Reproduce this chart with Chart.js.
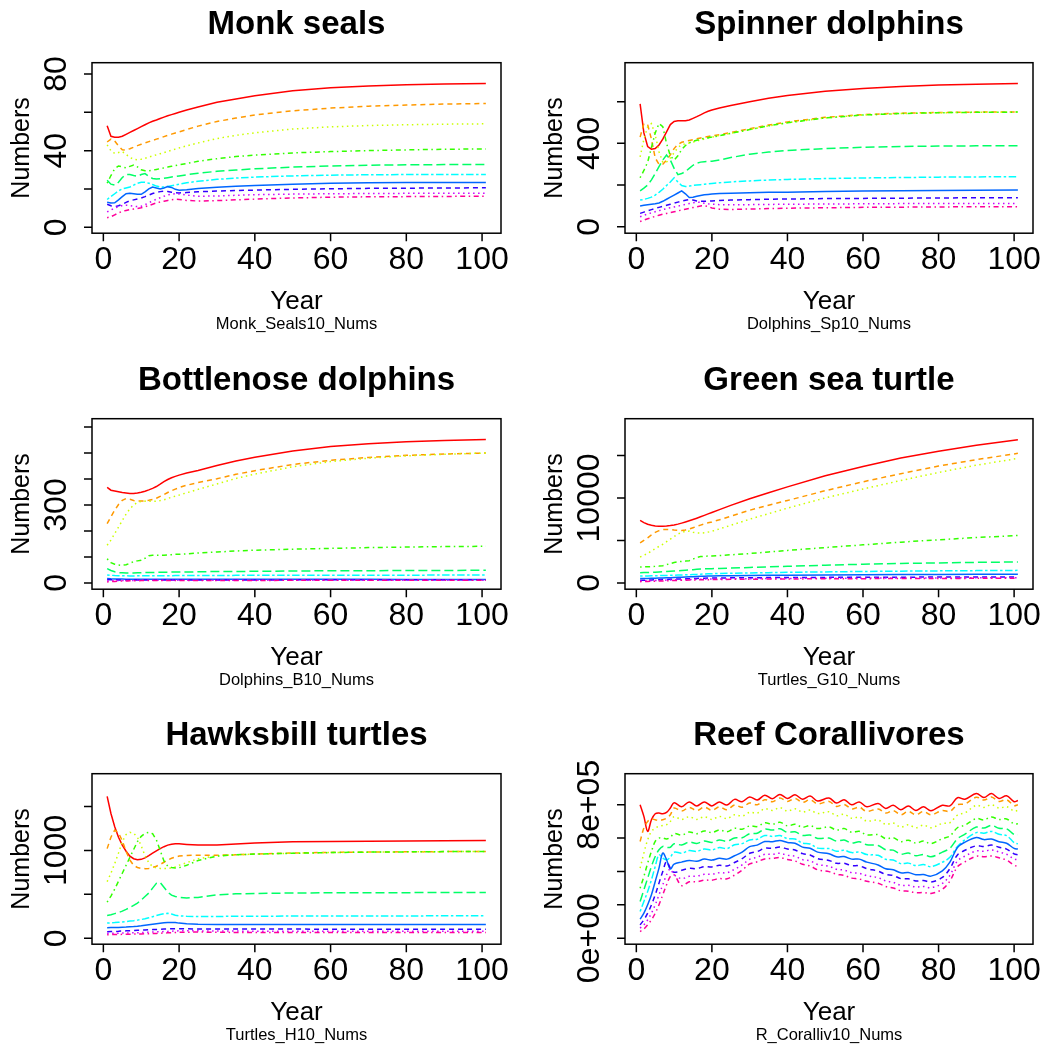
<!DOCTYPE html>
<html>
<head>
<meta charset="utf-8">
<title>Population numbers by age class</title>
<script src="https://cdn.jsdelivr.net/npm/chart.js@4.4.0/dist/chart.umd.min.js"></script>
<style>
  html, body { margin: 0; padding: 0; background: #fff; }
  body { width: 1046px; height: 1047px; overflow: hidden; position: relative; }
  canvas { position: absolute; }
</style>
</head>
<body>
<script>
// yearly projection, 10 age classes per species (rainbow order, R matplot style)
const years = [1,2,3,4,5,6,7,8,9,10,11,12,13,14,15,16,17,18,19,20,22,25,30,35,40,50,60,70,80,90,101];
const reefYears = [1,2,3,4,5,6,7,8,9,10,12,14,16,18,20,22,24,26,28,30,32,34,36,38,40,42,44,46,48,
  51,53,55,57,59,61,64,66,68,70,72,74,76,78,81,83,85,87,90,92,94,96,98,100,101];
const xTicks = [0, 20, 40, 60, 80, 100];

const classColors = ['#FF0000','#FF9900','#CCFF00','#33FF00','#00FF66','#00FFFF','#0066FF','#3300FF','#CC00FF','#FF0099'];
// lty 1..6: solid, dashed, dotted, dotdash, longdash, twodash
const ltyDash = [[], [5,4], [1.5,3.5], [1.5,3.5,5,3.5], [9,4], [2.5,2.5,7.5,2.5]];

const monkSeals = [
  [53,47.5,47,47,47.5,48.5,49.5,50.5,51.5,52.5,53.5,54.5,55.3,56,56.8,57.5,58.2,58.8,59.4,60,61.2,62.8,65.2,67,68.6,71.2,72.8,73.7,74.4,74.8,75.1],
  [44.5,46,45,42.5,40.5,40.3,41,41.8,42.6,43.3,44,44.7,45.3,46,46.6,47.3,48,48.6,49.2,49.8,51,52.8,55.2,57,58.6,60.8,62.2,63.2,63.8,64.3,64.6],
  [43,40,38.5,39,39.5,38,36.5,35.5,35.2,35.5,36,36.6,37.2,37.8,38.4,39,39.6,40.2,40.8,41.4,42.5,44,46.3,48,49.3,51.3,52.4,53.1,53.5,53.8,54],
  [23,27,30.5,32,31.5,31,31.8,32.5,31.5,30,29.5,29.5,29.8,30.2,30.6,31,31.4,31.8,32.2,32.6,33.3,34.4,35.8,36.9,37.7,38.8,39.5,40,40.4,40.7,40.9],
  [24.5,22.5,22,23.5,26,27.5,27.5,27,26.6,27.5,28,26.5,25.5,25.2,25.3,25.6,25.9,26.2,26.5,26.8,27.4,28.2,29.2,29.9,30.5,31.4,32,32.4,32.6,32.7,32.8],
  [14.5,16,17.5,19,20,20.5,21,22,23,23.5,23.5,23,22.3,21.5,21,21,21.3,21.7,22,22.5,23.2,24,25,25.7,26.2,26.8,27.2,27.4,27.5,27.6,27.6],
  [13,12.7,12.8,14.3,16,17.5,17.8,17.5,17.2,17.2,18.5,20,21,20.5,20,20.5,21.2,20.8,19.8,19.3,19.6,20.2,20.9,21.4,21.8,22.5,23,23.2,23.3,23.4,23.4],
  [12,11.2,10.8,11.2,12,13,13.8,14.3,14.8,15.3,16,16.8,17.6,18.2,18.6,18.9,18.7,18.3,18,17.9,18.1,18.5,18.9,19.2,19.4,19.8,20.1,20.3,20.4,20.5,20.6],
  [8,9,10,10.8,11.3,11.5,11.3,11,10.8,11,11.8,12.8,13.8,14.6,15.4,16.2,16.9,17.3,17.5,17.4,16.8,16.2,16.3,16.7,17,17.3,17.5,17.6,17.7,17.8,17.8],
  [5,5.5,6.5,7.5,8.3,8.8,9.2,9.5,9.8,10.2,10.7,11.3,12,12.7,13.2,13.6,14,14.4,14.6,14.5,14,13.7,13.9,14.3,14.7,15.3,15.7,15.9,16,16.1,16.2]
];

const spinnerDolphins = [
  [589,450,385,372,375,392,420,455,490,505,508,508,508,512,520,528,537,546,554,560,570,582,600,616,630,650,663,673,680,684,687],
  [430,495,490,420,330,300,300,320,345,375,395,405,410,414,418,422,426,430,433,436,442,452,470,488,503,525,538,545,548,550,551],
  [335,420,480,495,440,360,310,310,330,355,380,393,398,402,406,411,416,421,426,430,438,448,466,484,499,522,536,543,547,549,550],
  [235,270,310,380,450,495,480,400,340,320,340,370,390,402,410,415,420,424,427,430,437,448,466,484,499,522,536,543,547,549,550],
  [172,185,200,225,255,288,320,344,320,280,250,255,265,280,295,305,310,312,313,314,320,332,348,358,366,375,381,385,387,388,389],
  [128,131,136,142,152,165,180,198,215,235,215,198,193,195,198,200,202,204,206,208,211,215,220,224,227,231,234,236,238,239,240],
  [100,103,106,108,110,114,122,132,142,152,162,172,158,140,142,146,150,153,155,157,159,161,163,165,166,169,171,173,174,175,176],
  [64,70,76,82,88,93,98,103,108,113,118,123,127,130,128,124,122,122,123,124,126,128,130,132,133,135,136,137,138,139,139],
  [48,55,61,67,72,77,82,87,91,95,99,103,107,111,115,118,117,113,110,108,106,105,106,107,108,109,110,111,111,112,112],
  [25,32,38,44,50,55,60,64,68,72,76,80,84,88,92,96,100,101,97,90,84,83,85,87,89,91,93,94,95,96,96]
];

const bottlenoseDolphins = [
  [368,357,354,351,348,346,344,344,346,349,353,358,364,371,380,390,398,405,410,415,423,433,452,469,484,508,525,536,543,548,552],
  [228,255,280,302,318,325,322,317,315,315,316,318,321,326,333,340,348,355,361,367,376,386,401,418,432,456,472,483,491,496,500],
  [145,165,190,215,240,265,285,300,310,314,315,314,314,315,317,320,325,330,334,338,347,360,381,402,419,447,467,480,489,495,500],
  [93,78,72,69,68,70,76,82,85,87,95,105,107,107,107,107,108,109,110,110,112,115,119,123,126,130,133,136,138,140,141],
  [55,48,43,40,39,38,38,38,39,39,40,40,40,41,41,41,41,42,42,42,42,43,44,44,45,46,47,47,48,48,49],
  [31,29.5,28.5,28,27.5,27.3,27.2,27.2,27.3,27.4,27.5,27.6,27.7,27.8,27.9,28,28.1,28.2,28.3,28.4,28.5,28.7,29,29.2,29.4,29.7,29.9,30,30.1,30.2,30.3],
  [17,16,15.5,15,14.8,14.6,14.5,14.4,14.3,14.3,14.3,14.3,14.3,14.3,14.3,14.3,14.3,14.3,14.3,14.3,14.3,14.3,14.2,14.2,14.1,14,13.9,13.9,13.8,13.8,13.8],
  [13,12.5,12,11.8,11.6,11.5,11.4,11.4,11.4,11.4,11.4,11.4,11.5,11.5,11.5,11.5,11.5,11.5,11.6,11.6,11.6,11.7,11.7,11.8,11.8,11.9,12,12,12,12,12],
  [8,8.5,9,9.3,9.5,9.7,9.8,9.9,10,10,10.1,10.1,10.2,10.2,10.2,10.3,10.3,10.3,10.3,10.4,10.4,10.4,10.5,10.5,10.6,10.6,10.7,10.7,10.7,10.8,10.8],
  [4,5,6,6.8,7.4,7.9,8.3,8.6,8.8,9,9.1,9.2,9.3,9.4,9.4,9.5,9.5,9.6,9.6,9.6,9.7,9.7,9.8,9.8,9.9,10,10,10.1,10.1,10.1,10.2]
];

const greenTurtles = [
  [7350,7100,6900,6780,6700,6680,6680,6700,6750,6820,6920,7040,7170,7310,7460,7620,7780,7950,8120,8290,8630,9120,9900,10620,11300,12600,13700,14700,15500,16200,16850],
  [4700,5000,5300,5650,5950,6150,6270,6300,6280,6230,6190,6180,6230,6350,6500,6650,6800,6940,7070,7180,7430,7850,8550,9150,9700,10850,11900,12850,13750,14500,15250],
  [3050,3250,3480,3750,4050,4300,4550,4850,5150,5450,5750,5950,6080,6100,5950,5870,5860,5900,5980,6080,6350,6780,7500,8150,8800,10000,11050,12050,13000,13850,14650],
  [1880,1890,1900,1920,1950,1980,2030,2150,2280,2400,2480,2530,2570,2620,2800,3000,3100,3140,3160,3180,3230,3310,3460,3640,3830,4160,4480,4800,5080,5340,5590],
  [1210,1220,1230,1250,1270,1290,1310,1340,1370,1400,1430,1460,1490,1520,1560,1600,1640,1660,1670,1680,1710,1750,1820,1890,1960,2090,2200,2290,2360,2420,2470],
  [820,825,830,840,850,860,870,885,900,915,930,945,960,975,990,1005,1025,1050,1070,1090,1110,1135,1170,1210,1250,1300,1350,1390,1420,1450,1480],
  [510,520,530,545,560,575,590,605,620,640,660,680,700,720,740,760,775,790,805,820,835,855,875,895,910,935,960,980,995,1010,1020],
  [310,325,340,355,370,385,400,415,430,445,460,475,490,505,520,535,550,560,570,580,590,600,615,630,640,655,670,680,690,700,705],
  [230,245,260,275,290,305,320,335,350,362,374,386,398,410,420,430,440,450,458,466,475,488,505,520,535,555,570,582,592,600,608],
  [150,165,180,195,210,225,240,255,270,283,296,309,322,334,345,356,366,376,385,394,405,420,440,455,470,490,505,518,530,540,550]
];

const hawksbillTurtles = [
  [1615,1420,1270,1150,1060,990,935,905,893,898,915,940,968,995,1020,1042,1060,1070,1075,1075,1068,1060,1062,1072,1085,1097,1102,1105,1108,1111,1113],
  [1020,1150,1230,1200,1110,990,890,830,805,795,792,795,805,820,840,865,890,910,925,935,943,945,945,950,958,970,977,981,984,986,988],
  [645,740,850,970,1100,1180,1205,1195,1150,1050,940,860,815,800,795,793,795,800,812,830,860,905,940,950,957,968,976,980,983,986,988],
  [410,480,560,650,740,830,920,1010,1100,1160,1195,1205,1190,1120,1000,880,820,805,800,803,830,885,935,950,958,967,975,980,983,986,988],
  [260,268,280,292,308,328,350,375,400,435,475,515,570,625,635,580,525,490,475,466,458,465,495,505,510,515,517,518,519,520,521],
  [172,175,178,182,186,190,195,200,206,213,222,232,245,258,270,280,283,275,262,255,250,247,248,250,251,252,253,254,254,255,255],
  [120,121,122,123,125,127,130,133,137,142,148,154,160,166,171,175,178,180,178,172,165,160,157,156,156,156,156,156,156,156,156],
  [75,76,77,79,82,84,86,88,90,92,94,96,98,100,102,104,106,108,109,108,107,105,104,104,104,104,103,103,103,103,103],
  [55,56,57,58,59,60,61,62,63,64,66,68,70,72,74,76,78,80,82,84,85,84,82,81,80,80,80,80,80,80,80],
  [40,41,42,43,44,45,46,47,48,49,50,51,53,55,57,59,61,63,65,67,69,70,68,66,65,65,65,65,65,65,65]
];

// reef series use reefYears (54 points)
const reefCorallivores = [
  [8.0e5,7.3e5,6.4e5,7.1e5,7.46e5,7.5e5,7.46e5,7.54e5,7.8e5,8.12e5,7.88e5,8.17e5,7.93e5,8.17e5,7.93e5,8.17e5,7.98e5,8.32e5,8.18e5,8.47e5,8.28e5,8.57e5,8.36e5,8.62e5,8.38e5,8.6e5,8.33e5,8.52e5,8.23e5,
   8.4e5,8.1e5,8.3e5,8.0e5,8.17e5,7.88e5,8.07e5,7.78e5,7.97e5,7.7e5,7.92e5,7.66e5,7.88e5,7.64e5,7.97e5,7.93e5,8.42e5,8.33e5,8.67e5,8.43e5,8.67e5,8.38e5,8.54e5,8.18e5,8.25e5],
  [5.8e5,6.6e5,7.0e5,7.15e5,7.1e5,7.05e5,7.1e5,7.2e5,7.4e5,7.8e5,7.62e5,7.84e5,7.65e5,7.86e5,7.66e5,7.87e5,7.7e5,7.98e5,7.85e5,8.1e5,8.0e5,8.3e5,8.18e5,8.4e5,8.2e5,8.38e5,8.14e5,8.3e5,8.05e5,
   8.2e5,7.9e5,8.02e5,7.75e5,7.85e5,7.6e5,7.75e5,7.5e5,7.65e5,7.4e5,7.6e5,7.4e5,7.6e5,7.4e5,7.65e5,7.6e5,8.0e5,8.05e5,8.45e5,8.28e5,8.46e5,8.2e5,8.3e5,7.95e5,8.0e5],
  [4.2e5,5.1e5,5.9e5,6.4e5,6.6e5,6.7e5,6.75e5,6.8e5,7.0e5,7.28e5,7.12e5,7.28e5,7.12e5,7.28e5,7.12e5,7.3e5,7.17e5,7.4e5,7.32e5,7.54e5,7.5e5,7.76e5,7.66e5,7.82e5,7.62e5,7.76e5,7.56e5,7.68e5,7.47e5,
   7.58e5,7.34e5,7.43e5,7.19e5,7.26e5,7.02e5,7.08e5,6.82e5,6.9e5,6.66e5,6.8e5,6.62e5,6.78e5,6.62e5,6.88e5,6.92e5,7.38e5,7.52e5,7.96e5,7.84e5,8.0e5,7.8e5,7.88e5,7.62e5,7.66e5],
  [3.0e5,3.7e5,4.5e5,5.2e5,5.8e5,6.0e5,6.0e5,5.95e5,6.05e5,6.27e5,6.18e5,6.37e5,6.26e5,6.43e5,6.33e5,6.49e5,6.38e5,6.59e5,6.53e5,6.73e5,6.69e5,6.92e5,6.83e5,6.95e5,6.73e5,6.83e5,6.65e5,6.75e5,6.57e5,
   6.67e5,6.48e5,6.57e5,6.35e5,6.41e5,6.19e5,6.21e5,5.97e5,6.02e5,5.79e5,5.87e5,5.7e5,5.82e5,5.67e5,5.97e5,6.13e5,6.62e5,6.78e5,7.17e5,7.09e5,7.27e5,7.11e5,7.15e5,6.85e5,6.86e5],
  [2.2e5,2.9e5,3.6e5,4.3e5,4.9e5,5.3e5,5.5e5,5.45e5,5.45e5,5.66e5,5.59e5,5.76e5,5.68e5,5.83e5,5.74e5,5.89e5,5.81e5,6.01e5,6.02e5,6.26e5,6.29e5,6.54e5,6.48e5,6.56e5,6.34e5,6.38e5,6.16e5,6.18e5,5.98e5,
   6.0e5,5.82e5,5.88e5,5.7e5,5.78e5,5.6e5,5.56e5,5.3e5,5.28e5,5.04e5,5.1e5,4.94e5,5.02e5,4.88e5,5.16e5,5.39e5,5.96e5,6.24e5,6.66e5,6.6e5,6.76e5,6.59e5,6.56e5,6.22e5,6.2e5],
  [1.6e5,2.2e5,2.8e5,3.5e5,4.3e5,5.0e5,4.8e5,4.7e5,4.85e5,5.15e5,5.1e5,5.25e5,5.2e5,5.35e5,5.29e5,5.43e5,5.37e5,5.6e5,5.67e5,5.89e5,5.93e5,6.15e5,6.1e5,6.15e5,5.97e5,5.95e5,5.7e5,5.65e5,5.4e5,
   5.37e5,5.21e5,5.27e5,5.13e5,5.17e5,5.01e5,4.97e5,4.73e5,4.69e5,4.47e5,4.5e5,4.35e5,4.41e5,4.29e5,4.55e5,4.85e5,5.5e5,5.9e5,6.33e5,6.29e5,6.4e5,6.23e5,6.15e5,5.73e5,5.66e5],
  [1.14e5,1.5e5,2.0e5,2.6e5,3.4e5,4.2e5,5.1e5,4.7e5,4.15e5,4.44e5,4.56e5,4.66e5,4.61e5,4.74e5,4.68e5,4.79e5,4.74e5,4.94e5,5.16e5,5.49e5,5.58e5,5.79e5,5.78e5,5.86e5,5.74e5,5.69e5,5.46e5,5.39e5,5.16e5,
   5.06e5,4.88e5,4.89e5,4.74e5,4.74e5,4.56e5,4.39e5,4.16e5,4.1e5,3.92e5,3.94e5,3.8e5,3.82e5,3.72e5,4.04e5,4.56e5,5.44e5,5.76e5,6.04e5,5.91e5,5.94e5,5.78e5,5.69e5,5.38e5,5.34e5],
  [0.8e5,1.1e5,1.5e5,2.0e5,2.6e5,3.3e5,4.0e5,4.6e5,4.2e5,3.95e5,4.07e5,4.19e5,4.17e5,4.29e5,4.27e5,4.37e5,4.33e5,4.54e5,4.77e5,5.09e5,5.19e5,5.39e5,5.39e5,5.46e5,5.35e5,5.29e5,5.07e5,4.99e5,4.77e5,
   4.66e5,4.49e5,4.49e5,4.35e5,4.34e5,4.17e5,4.02e5,3.82e5,3.76e5,3.57e5,3.56e5,3.43e5,3.46e5,3.37e5,3.64e5,4.17e5,4.99e5,5.27e5,5.54e5,5.49e5,5.58e5,5.45e5,5.34e5,5.05e5,5.0e5],
  [0.6e5,0.8e5,1.1e5,1.5e5,2.0e5,2.6e5,3.2e5,3.8e5,4.15e5,3.8e5,3.57e5,3.71e5,3.72e5,3.83e5,3.83e5,3.93e5,3.92e5,4.13e5,4.39e5,4.73e5,4.85e5,5.03e5,5.03e5,5.09e5,4.97e5,4.91e5,4.71e5,4.63e5,4.42e5,
   4.31e5,4.13e5,4.08e5,3.93e5,3.89e5,3.75e5,3.63e5,3.43e5,3.35e5,3.17e5,3.17e5,3.07e5,3.1e5,3.03e5,3.28e5,3.77e5,4.63e5,4.92e5,5.23e5,5.21e5,5.29e5,5.17e5,5.03e5,4.75e5,4.7e5],
  [0.4e5,0.55e5,0.8e5,1.1e5,1.5e5,2.0e5,2.6e5,3.2e5,3.7e5,3.8e5,3.15e5,3.38e5,3.38e5,3.48e5,3.48e5,3.57e5,3.56e5,3.78e5,4.08e5,4.45e5,4.58e5,4.75e5,4.78e5,4.83e5,4.72e5,4.63e5,4.43e5,4.33e5,4.1e5,
   3.99e5,3.83e5,3.77e5,3.6e5,3.55e5,3.41e5,3.29e5,3.1e5,3.01e5,2.84e5,2.82e5,2.72e5,2.74e5,2.68e5,2.93e5,3.43e5,4.28e5,4.58e5,4.91e5,4.88e5,4.93e5,4.82e5,4.68e5,4.38e5,4.3e5]
];

const panels = [
  { title: 'Monk seals', sub: 'Monk_Seals10_Nums', row: 0, col: 0, x: years, series: monkSeals, tension: 0,
    yMin: -3.1, yMax: 85.9, yTicks: [0, 20, 40, 60, 80], yLabels: ['0', '', '40', '', '80'] },
  { title: 'Spinner dolphins', sub: 'Dolphins_Sp10_Nums', row: 0, col: 1, x: years, series: spinnerDolphins, tension: 0,
    yMin: -31, yMax: 787, yTicks: [0, 200, 400, 600], yLabels: ['0', '', '400', ''] },
  { title: 'Bottlenose dolphins', sub: 'Dolphins_B10_Nums', row: 1, col: 0, x: years, series: bottlenoseDolphins, tension: 0,
    yMin: -24, yMax: 632, yTicks: [0, 100, 200, 300, 400, 500, 600], yLabels: ['0', '', '', '300', '', '', ''] },
  { title: 'Green sea turtle', sub: 'Turtles_G10_Nums', row: 1, col: 1, x: years, series: greenTurtles, tension: 0,
    yMin: -736, yMax: 19322, yTicks: [0, 5000, 10000, 15000], yLabels: ['0', '', '10000', ''] },
  { title: 'Hawksbill turtles', sub: 'Turtles_H10_Nums', row: 2, col: 0, x: years, series: hawksbillTurtles, tension: 0,
    yMin: -68, yMax: 1873, yTicks: [0, 500, 1000, 1500], yLabels: ['0', '', '1000', ''] },
  { title: 'Reef Corallivores', sub: 'R_Coralliv10_Nums', row: 2, col: 1, x: reefYears, series: reefCorallivores, tension: 0.35,
    yMin: -36000, yMax: 986000, yTicks: [0, 2e5, 4e5, 6e5, 8e5], yLabels: ['0e+00', '', '', '', '8e+05'] }
];

const FONT = '"Liberation Sans", Arial, Helvetica, sans-serif';
const CW = 523, CH = 356;
const rowTops = [0, 356, 711];
const boxTop = 62.7, boxBottom = 233.2;
const boxLeft = [92, 102], boxRight = [501, 510];

// base-graphics look: full box, outward ticks, rotated y labels, titles
function frame(p) {
  return {
    id: 'frame',
    afterDraw(chart) {
      const { ctx, chartArea: a, scales } = chart;
      const sx = scales.x, sy = scales.y;
      ctx.save();
      ctx.strokeStyle = '#000';
      ctx.lineWidth = 1.5;
      ctx.strokeRect(a.left, a.top, a.right - a.left, a.bottom - a.top);
      ctx.beginPath();
      xTicks.forEach(v => {
        const px = sx.getPixelForValue(v);
        ctx.moveTo(px, a.bottom);
        ctx.lineTo(px, a.bottom + 8);
      });
      p.yTicks.forEach(v => {
        const py = sy.getPixelForValue(v);
        ctx.moveTo(a.left, py);
        ctx.lineTo(a.left - 8, py);
      });
      ctx.stroke();

      ctx.fillStyle = '#000';
      ctx.textAlign = 'center';
      ctx.textBaseline = 'alphabetic';
      ctx.font = '32px ' + FONT;
      xTicks.forEach(v => ctx.fillText(String(v), sx.getPixelForValue(v), 269));
      p.yTicks.forEach((v, i) => {
        if (!p.yLabels[i]) return;
        ctx.save();
        ctx.translate(a.left - 26, sy.getPixelForValue(v));
        ctx.rotate(-Math.PI / 2);
        ctx.fillText(p.yLabels[i], 0, 0);
        ctx.restore();
      });

      const cx = (a.left + a.right) / 2, cy = (a.top + a.bottom) / 2;
      ctx.font = 'bold 33px ' + FONT;
      ctx.fillText(p.title, cx, 34);
      ctx.font = '26px ' + FONT;
      ctx.fillText('Year', cx, 309);
      ctx.font = '16.5px ' + FONT;
      ctx.fillText(p.sub, cx, 329);

      ctx.save();
      ctx.translate(a.left - 63, cy);
      ctx.rotate(-Math.PI / 2);
      ctx.font = '25px ' + FONT;
      ctx.fillText('Numbers', 0, 0);
      ctx.restore();
      ctx.restore();
    }
  };
}

panels.forEach(p => {
  const canvas = document.createElement('canvas');
  canvas.width = CW;
  canvas.height = CH;
  canvas.style.left = (p.col * CW) + 'px';
  canvas.style.top = rowTops[p.row] + 'px';
  canvas.style.width = CW + 'px';
  canvas.style.height = CH + 'px';
  document.body.appendChild(canvas);

  const datasets = p.series.map((vals, i) => ({
    data: p.x.map((yr, j) => ({ x: yr, y: vals[j] })),
    borderColor: classColors[i],
    borderDash: ltyDash[i % 6],
    borderWidth: 1.5,
    pointRadius: 0,
    tension: p.tension,
    fill: false,
    order: 10 - i
  }));

  new Chart(canvas, {
    type: 'line',
    data: { datasets },
    options: {
      responsive: false,
      animation: false,
      devicePixelRatio: 1,
      layout: {
        padding: {
          left: boxLeft[p.col],
          right: CW - boxRight[p.col],
          top: boxTop,
          bottom: CH - boxBottom
        }
      },
      plugins: { legend: { display: false }, tooltip: { enabled: false } },
      scales: {
        x: { type: 'linear', min: -3, max: 105, display: false },
        y: { type: 'linear', min: p.yMin, max: p.yMax, display: false }
      }
    },
    plugins: [frame(p)]
  });
});
</script>
</body>
</html>
